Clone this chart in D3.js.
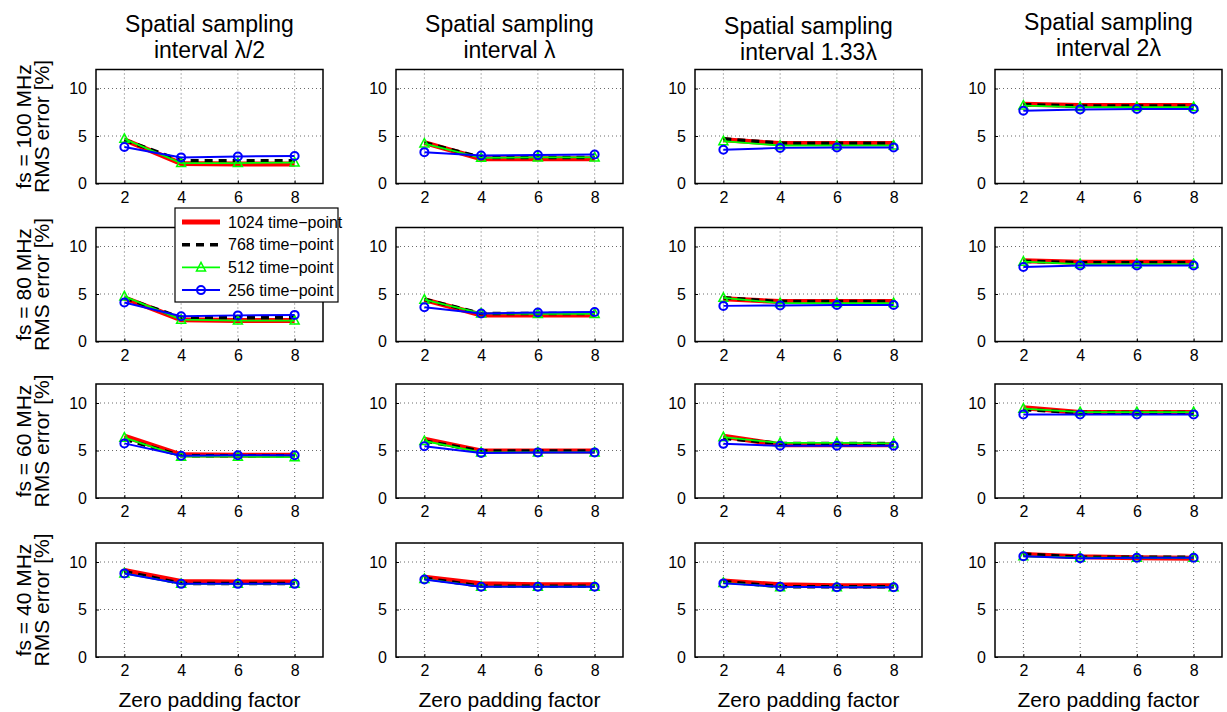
<!DOCTYPE html>
<html>
<head>
<meta charset="utf-8">
<script src="https://cdn.jsdelivr.net/npm/d3@7"></script>
<style>
  body { margin: 0; background: #fff; }
  svg { font-family: "Liberation Sans", Arial, sans-serif; }
</style>
</head>
<body>
<div id="chart"></div>
<script>
// Zero padding factors on the x axis
const zeroPadding = [2, 4, 6, 8];
const yTicks = [0, 5, 10];

// Column titles (spatial sampling interval) and row labels (sampling frequency)
const colTitles = [
    ["Spatial sampling", "interval λ/2"],
    ["Spatial sampling", "interval λ"],
    ["Spatial sampling", "interval 1.33λ"],
    ["Spatial sampling", "interval 2λ"]
];
const rowLabels = ["fs = 100 MHz", "fs = 80 MHz", "fs = 60 MHz", "fs = 40 MHz"];
const seriesNames = ["1024 time−point", "768 time−point", "512 time−point", "256 time−point"];

// RMS error [%], indexed [row][column][zero padding]
const rms1024 = [
    [[4.6, 2.1, 2.05, 2.05], [4.3, 2.6, 2.6, 2.6], [4.6, 4.2, 4.2, 4.2], [8.35, 8.2, 8.2, 8.2]],
    [[4.6, 2.3, 2.2, 2.2], [4.4, 2.8, 2.8, 2.8], [4.5, 4.2, 4.2, 4.2], [8.5, 8.35, 8.35, 8.35]],
    [[6.5, 4.55, 4.5, 4.5], [6.2, 4.95, 4.95, 4.95], [6.5, 5.6, 5.6, 5.6], [9.5, 9.0, 9.0, 9.0]],
    [[9.1, 7.95, 7.9, 7.9], [8.4, 7.7, 7.6, 7.6], [8.0, 7.6, 7.5, 7.5], [10.8, 10.55, 10.45, 10.4]]
];
const rms768 = [
    [[4.6, 2.4, 2.4, 2.4], [4.3, 2.75, 2.75, 2.75], [4.7, 4.25, 4.25, 4.25], [8.3, 8.15, 8.15, 8.15]],
    [[4.6, 2.5, 2.5, 2.5], [4.45, 2.95, 2.95, 2.95], [4.6, 4.2, 4.2, 4.2], [8.45, 8.3, 8.3, 8.3]],
    [[6.2, 4.45, 4.45, 4.45], [6.0, 4.95, 4.95, 4.95], [6.3, 5.75, 5.75, 5.75], [9.3, 9.0, 9.0, 9.0]],
    [[9.0, 7.75, 7.75, 7.75], [8.3, 7.45, 7.45, 7.45], [7.95, 7.4, 7.4, 7.4], [10.85, 10.5, 10.5, 10.5]]
];
const rms512 = [
    [[4.7, 2.15, 2.15, 2.2], [4.2, 2.7, 2.75, 2.75], [4.45, 4.0, 4.0, 4.0], [8.2, 8.05, 8.05, 8.05]],
    [[4.75, 2.3, 2.2, 2.2], [4.4, 2.95, 2.9, 2.9], [4.6, 4.05, 4.05, 4.05], [8.4, 8.15, 8.15, 8.15]],
    [[6.35, 4.35, 4.35, 4.3], [6.0, 4.8, 4.8, 4.8], [6.4, 5.8, 5.8, 5.75], [9.4, 9.05, 9.05, 9.05]],
    [[8.8, 7.7, 7.7, 7.7], [8.2, 7.4, 7.4, 7.4], [7.8, 7.35, 7.35, 7.35], [10.6, 10.45, 10.45, 10.45]]
];
const rms256 = [
    [[3.85, 2.75, 2.85, 2.9], [3.3, 2.95, 3.0, 3.05], [3.55, 3.75, 3.8, 3.8], [7.65, 7.8, 7.85, 7.85]],
    [[4.1, 2.65, 2.75, 2.8], [3.6, 2.95, 3.05, 3.1], [3.75, 3.8, 3.85, 3.85], [7.85, 8.0, 8.0, 8.0]],
    [[5.75, 4.45, 4.5, 4.5], [5.45, 4.75, 4.8, 4.8], [5.7, 5.5, 5.5, 5.5], [8.8, 8.8, 8.8, 8.8]],
    [[8.8, 7.7, 7.7, 7.7], [8.15, 7.4, 7.4, 7.4], [7.75, 7.4, 7.35, 7.35], [10.6, 10.4, 10.45, 10.45]]
];

// Series styles, drawn in this order (red at the bottom, blue on top)
const series = [
    { name: seriesNames[0], data: rms1024, color: "#ff0000", width: 5, dash: null, marker: null },
    { name: seriesNames[1], data: rms768, color: "#000000", width: 3.5, dash: "8,6", marker: null },
    { name: seriesNames[2], data: rms512, color: "#00ff00", width: 1.8, dash: null, marker: "triangle" },
    { name: seriesNames[3], data: rms256, color: "#0000ff", width: 2, dash: null, marker: "circle" }
];

// Layout of the 4x4 grid of axes
const colLeft = [96, 396, 695, 995];
const rowTop = [69.5, 227.5, 384, 543];
const panelW = 227;
const panelH = 114;
const titleShift = [0, 0, 2, -2];

const svg = d3.select("#chart")
    .append("svg")
    .attr("width", 1227)
    .attr("height", 712);

const xScale = d3.scaleLinear().domain([1, 9]).range([0, panelW]);
const yScale = d3.scaleLinear().domain([0, 12]).range([panelH, 0]);

function drawMarker(g, type, color) {
    if (type === "circle") {
        g.append("circle").attr("r", 4).attr("fill", "none")
            .attr("stroke", color).attr("stroke-width", 2);
    } else if (type === "triangle") {
        g.append("path").attr("d", "M0,-5L4.5,3.5L-4.5,3.5Z").attr("fill", "none")
            .attr("stroke", color).attr("stroke-width", 1.5);
    }
}

rowTop.forEach((top, r) => {
    colLeft.forEach((left, c) => {
        const g = svg.append("g").attr("transform", `translate(${left},${top})`);

        // Dotted grid
        g.selectAll(".vgrid").data(zeroPadding).enter().append("line")
            .attr("x1", d => xScale(d)).attr("x2", d => xScale(d))
            .attr("y1", 0).attr("y2", panelH)
            .attr("stroke", "#444").attr("stroke-width", 0.8).attr("stroke-dasharray", "1,3");
        g.selectAll(".hgrid").data(yTicks.slice(1)).enter().append("line")
            .attr("x1", 0).attr("x2", panelW)
            .attr("y1", d => yScale(d)).attr("y2", d => yScale(d))
            .attr("stroke", "#444").attr("stroke-width", 0.8).attr("stroke-dasharray", "1,3");

        // Axes
        const xAxis = g.append("g").attr("transform", `translate(0,${panelH})`)
            .call(d3.axisBottom(xScale).tickValues(zeroPadding).tickSize(-3).tickPadding(8));
        const yAxis = g.append("g")
            .call(d3.axisLeft(yScale).tickValues(yTicks).tickSize(-3).tickPadding(9));
        [xAxis, yAxis].forEach(a => {
            a.select(".domain").remove();
            a.selectAll("line").attr("stroke", "#000");
            a.selectAll("text").attr("font-size", 16).attr("fill", "#000")
                .attr("font-family", "Liberation Sans, Arial, sans-serif");
        });

        // Series lines
        const line = d3.line().x((d, i) => xScale(zeroPadding[i])).y(d => yScale(d));
        series.forEach(s => {
            const vals = s.data[r][c];
            g.append("path").datum(vals)
                .attr("d", line)
                .attr("fill", "none")
                .attr("stroke", s.color)
                .attr("stroke-width", s.width)
                .attr("stroke-linejoin", "miter")
                .attr("stroke-dasharray", s.dash);
            if (s.marker) {
                vals.forEach((v, i) => {
                    const m = g.append("g")
                        .attr("transform", `translate(${xScale(zeroPadding[i])},${yScale(v)})`);
                    drawMarker(m, s.marker, s.color);
                });
            }
        });

        // Axes box
        g.append("rect").attr("width", panelW).attr("height", panelH)
            .attr("fill", "none").attr("stroke", "#000").attr("stroke-width", 1.5);

        // Column titles on top row
        if (r === 0) {
            const t = svg.append("text")
                .attr("x", left + panelW / 2)
                .attr("text-anchor", "middle")
                .attr("font-size", 23)
                .attr("fill", "#000");
            t.append("tspan").attr("x", left + panelW / 2).attr("y", 31.5 + titleShift[c]).text(colTitles[c][0]);
            t.append("tspan").attr("x", left + panelW / 2).attr("y", 58 + titleShift[c]).text(colTitles[c][1]);
        }

        // Row labels on first column
        if (c === 0) {
            const cy = top + panelH / 2;
            svg.append("text")
                .attr("transform", `translate(31,${cy}) rotate(-90)`)
                .attr("text-anchor", "middle").attr("font-size", 21)
                .text(rowLabels[r]);
            svg.append("text")
                .attr("transform", `translate(49,${cy}) rotate(-90)`)
                .attr("text-anchor", "middle").attr("font-size", 21)
                .text("RMS error [%]");
        }

        // X labels on bottom row
        if (r === rowTop.length - 1) {
            svg.append("text")
                .attr("x", left + panelW / 2).attr("y", 707)
                .attr("text-anchor", "middle").attr("font-size", 21)
                .text("Zero padding factor");
        }
    });
});

// Legend
const legend = svg.append("g").attr("transform", "translate(175,208)");
legend.append("rect").attr("width", 163).attr("height", 94)
    .attr("fill", "#fff").attr("stroke", "#000").attr("stroke-width", 1.2);
series.forEach((s, i) => {
    const ly = 14 + i * 22.7;
    legend.append("line")
        .attr("x1", 7).attr("x2", 45).attr("y1", ly).attr("y2", ly)
        .attr("stroke", s.color).attr("stroke-width", s.width)
        .attr("stroke-dasharray", s.dash);
    if (s.marker) {
        const m = legend.append("g").attr("transform", `translate(26,${ly})`);
        drawMarker(m, s.marker, s.color);
    }
    legend.append("text")
        .attr("x", 53).attr("y", ly).attr("dy", "0.35em")
        .attr("font-size", 16)
        .text(s.name);
});
</script>
</body>
</html>
